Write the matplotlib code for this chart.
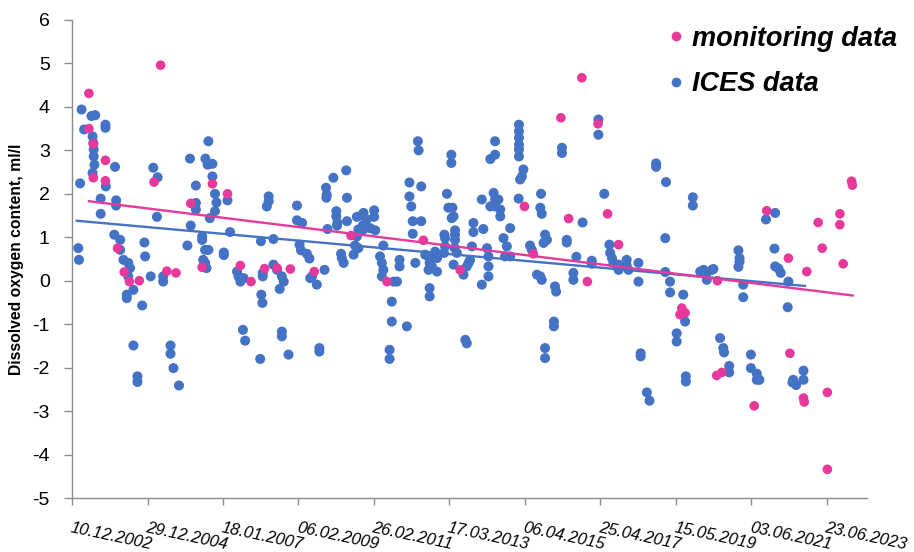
import numpy as np
import pandas as pd
import matplotlib
matplotlib.use("Agg")
import matplotlib.pyplot as plt
from matplotlib.lines import Line2D

plt.rcParams['font.family'] = ['Liberation Sans', 'DejaVu Sans']
plt.rcParams['axes.unicode_minus'] = False

# monitoring data (decimal year, ml/l)
monitoring_years = [
    2003.40, 2003.40, 2003.52, 2003.52, 2003.85, 2003.85, 2005.35, 2005.17,
    2004.18, 2004.36, 2004.50, 2004.77, 2005.52, 2005.77, 2006.17, 2006.76,
    2007.17, 2006.48, 2007.52, 2007.81, 2008.18, 2008.52, 2008.88, 2009.53,
    2010.53, 2011.51, 2012.50, 2013.50, 2015.25, 2015.49, 2016.81, 2016.24,
    2017.25, 2016.45, 2017.51, 2017.81, 2016.96, 2019.53, 2019.62, 2019.48,
    2021.84, 2022.43, 2022.93, 2023.24, 2023.35, 2023.83, 2023.83, 2023.92,
    2024.15, 2024.17, 2020.50, 2022.47, 2020.48, 2020.62, 2021.50, 2022.84,
    2022.86, 2023.49, 2023.49]
monitoring_values = [
    4.31, 3.50, 3.15, 2.37, 2.77, 2.30, 4.96, 2.27,
    0.75, 0.20, -0.02, 0.00, 0.22, 0.18, 1.78, 2.23,
    2.00, 0.31, 0.35, -0.02, 0.28, 0.29, 0.27, 0.21,
    1.04, -0.02, 0.93, 0.25, 1.71, 0.62, 4.67, 3.75,
    3.61, 1.43, 1.54, 0.83, -0.02, -0.63, -0.74, -0.78,
    1.61, 0.52, 0.21, 1.34, 0.75, 1.54, 1.29, 0.39,
    2.29, 2.20, 0.00, -1.67, -2.18, -2.11, -2.88, -2.70,
    -2.79, -2.57, -4.34]

# ICES data (decimal year, ml/l)
ices_years = [
    2003.20, 2003.27, 2003.47, 2003.57, 2003.50, 2003.52,
    2003.53, 2003.53, 2003.55, 2003.50, 2003.85, 2003.85,
    2004.11, 2003.16, 2003.72, 2003.72, 2003.86, 2004.14,
    2004.14, 2003.11, 2003.13, 2004.09, 2004.25, 2004.25,
    2004.34, 2004.47, 2004.52, 2004.47, 2004.61, 2004.43,
    2004.43, 2004.85, 2004.91, 2004.93, 2005.08, 2005.42,
    2005.42, 2005.15, 2005.27, 2005.25, 2004.61, 2004.72,
    2004.72, 2005.62, 2005.62, 2005.70, 2005.85, 2006.15,
    2006.31, 2006.31, 2006.31, 2006.17, 2006.08, 2006.48,
    2006.48, 2006.56, 2006.65, 2006.51, 2006.56, 2006.60,
    2006.65, 2006.57, 2006.63, 2006.76, 2006.76, 2006.83,
    2006.87, 2006.83, 2006.69, 2007.07, 2007.07, 2007.17,
    2007.24, 2007.43, 2007.47, 2007.61, 2007.52, 2008.08,
    2008.42, 2008.29, 2008.29, 2008.24, 2008.13, 2008.13,
    2008.42, 2008.52, 2008.65, 2008.70, 2008.59, 2008.09,
    2008.12, 2007.59, 2007.65, 2008.06, 2008.65, 2008.65,
    2008.83, 2009.06, 2009.06, 2009.20, 2009.13, 2009.17,
    2009.33, 2009.40, 2009.47, 2009.42, 2009.60, 2009.81,
    2009.67, 2009.67, 2009.89, 2009.85, 2009.87, 2009.86,
    2010.05, 2010.40, 2010.42, 2010.13, 2010.13, 2010.16,
    2010.15, 2010.42, 2010.26, 2010.28, 2010.33, 2010.69,
    2010.81, 2010.87, 2010.96, 2011.16, 2011.16, 2010.85,
    2010.87, 2010.73, 2010.69, 2011.05, 2011.19, 2010.64,
    2010.73, 2010.60, 2011.41, 2011.32, 2011.37, 2011.41,
    2011.37, 2011.64, 2011.64, 2011.58, 2011.58, 2011.69,
    2011.78, 2012.05, 2011.85, 2011.85, 2012.28, 2012.12,
    2012.12, 2012.17, 2012.21, 2012.21, 2012.44, 2012.44,
    2012.35, 2012.37, 2012.55, 2012.64, 2012.67, 2012.73,
    2012.87, 2012.82, 2012.64, 2012.87, 2012.67, 2012.67,
    2013.07, 2013.09, 2013.09, 2013.06, 2013.14, 2013.18,
    2013.29, 2013.27, 2013.32, 2013.26, 2013.26, 2013.36,
    2013.36, 2013.36, 2013.35, 2013.41, 2013.32, 2013.59,
    2013.68, 2013.77, 2013.73, 2013.64, 2013.68, 2013.86,
    2013.86, 2013.82, 2014.09, 2014.13, 2014.23, 2014.27,
    2014.27, 2014.27, 2014.09, 2014.41, 2014.32, 2014.45,
    2014.54, 2014.59, 2014.59, 2014.45, 2014.45, 2014.32,
    2014.45, 2014.86, 2014.68, 2014.77, 2014.72, 2014.86,
    2015.10, 2015.10, 2015.10, 2015.10, 2015.10, 2015.10,
    2015.22, 2015.18, 2015.13, 2015.09, 2015.40, 2015.45,
    2015.59, 2015.68, 2015.72, 2015.70, 2015.68, 2015.72,
    2015.81, 2015.86, 2015.77, 2016.05, 2016.05, 2015.81,
    2015.81, 2017.26, 2017.26, 2016.27, 2016.27, 2017.42,
    2016.83, 2016.40, 2016.40, 2016.66, 2016.58, 2016.58,
    2017.08, 2017.08, 2016.08, 2016.11, 2017.56, 2017.58,
    2017.63, 2017.67, 2017.81, 2017.81, 2018.03, 2018.03,
    2018.08, 2018.35, 2018.35, 2018.83, 2018.83, 2019.10,
    2019.08, 2019.08, 2019.21, 2019.21, 2019.83, 2019.83,
    2019.57, 2019.62, 2019.39, 2019.39, 2018.41, 2018.41,
    2019.64, 2019.64, 2018.58, 2018.65, 2020.03, 2020.12,
    2020.21, 2020.35, 2020.21, 2020.39, 2021.07, 2021.10,
    2021.10, 2021.07, 2021.20, 2021.20, 2020.57, 2020.66,
    2020.68, 2020.82, 2020.82, 2021.41, 2021.41, 2021.57,
    2021.64, 2021.57, 2021.82, 2022.07, 2022.05, 2022.07,
    2022.16, 2022.22, 2022.43, 2022.41, 2022.56, 2022.64,
    2022.84, 2022.84, 2022.54]
ices_values = [
    3.94, 3.48, 3.79, 3.81, 3.32, 3.17,
    3.02, 2.86, 2.67, 2.48, 3.59, 3.52,
    2.62, 2.24, 1.89, 1.54, 2.17, 1.85,
    1.73, 0.75, 0.48, 1.06, 0.94, 0.71,
    0.48, 0.41, 0.29, 0.10, -0.21, -0.32,
    -0.40, -0.57, 0.88, 0.56, 0.10, 0.10,
    -0.02, 2.60, 2.38, 1.47, -1.49, -2.20,
    -2.33, -1.49, -1.68, -2.01, -2.41, 2.81,
    2.19, 1.79, 1.64, 1.27, 0.81, 1.02,
    0.94, 0.71, 0.71, 0.48, 0.41, 0.29,
    3.21, 2.81, 2.67, 2.69, 2.40, 2.00,
    1.80, 1.60, 1.44, 0.65, 0.59, 1.85,
    1.12, 0.21, 0.10, 0.06, -0.02, 0.91,
    0.96, 1.94, 1.83, 1.71, 0.18, 0.10,
    0.37, 0.25, 0.10, -0.02, -0.19, -0.32,
    -0.51, -1.13, -1.38, -1.80, -1.17, -1.28,
    -1.70, 1.73, 1.39, 1.33, 0.83, 0.70,
    0.62, 0.51, 0.10, 0.06, -0.09, 0.25,
    -1.55, -1.63, 1.19, 2.14, 1.98, 1.91,
    2.37, 2.54, 1.91, 1.60, 1.48, 1.33,
    1.27, 1.37, 0.62, 0.52, 0.41, 1.47,
    1.50, 1.56, 1.41, 1.62, 1.47, 1.27,
    1.18, 1.18, 1.02, 1.21, 1.16, 0.81,
    0.75, 0.60, 0.81, 0.56, 0.41, 0.25,
    0.10, -0.48, -0.94, -1.59, -1.80, -0.02,
    -0.02, -1.05, 0.48, 0.33, 0.41, 2.26,
    1.94, 1.71, 1.37, 1.08, 2.17, 1.37,
    3.21, 3.00, 0.60, 0.56, 0.41, 0.33,
    0.52, 0.67, 0.25, 0.21, -0.17, -0.36,
    1.06, 0.98, 0.79, 0.64, 2.00, 1.68,
    1.68, 1.44, 1.48, 2.90, 2.71, 1.16,
    1.06, 0.94, 0.75, 0.64, 0.37, 0.14,
    0.33, 0.48, 0.41, -1.36, -1.44, 1.33,
    1.12, 0.79, 1.87, 1.19, 0.75, 0.56,
    0.33, 0.10, -0.09, 2.02, 1.71, 1.71,
    1.87, 1.64, 1.48, 1.87, 3.21, 2.80,
    2.90, 1.21, 0.98, 0.79, 0.56, 0.56,
    3.59, 3.44, 3.29, 3.13, 3.02, 2.86,
    2.56, 2.40, 2.33, 1.89, 0.81, 0.71,
    0.14, 0.10, 0.02, 2.00, 1.68, 1.54,
    1.06, 0.94, 0.87, -0.94, -1.05, -1.55,
    -1.78, 3.71, 3.36, 3.06, 2.94, 2.00,
    1.34, 0.94, 0.88, 0.55, 0.18, 0.02,
    0.46, 0.39, -0.13, -0.25, 0.83, 0.64,
    0.52, 0.41, 0.37, 0.25, 0.48, 0.35,
    0.25, 0.41, -0.02, 2.70, 2.62, 2.27,
    0.98, 0.20, -0.02, -0.27, 1.92, 1.73,
    -0.32, -0.94, -1.21, -1.40, -1.67, -1.74,
    -2.20, -2.32, -2.57, -2.76, 0.21, 0.25,
    0.18, 0.25, 0.02, 0.27, 0.70, 0.52,
    0.44, 0.32, -0.09, -0.38, -1.32, -1.55,
    -1.65, -1.96, -2.11, -1.70, -2.01, -2.14,
    -2.28, -2.28, 1.41, 1.56, 0.74, 0.33,
    0.28, 0.18, -0.02, -0.61, -2.28, -2.40,
    -2.28, -2.07, -2.34]

# linear trends (start / end)
monitoring_trend_years = [2003.40, 2024.18]
monitoring_trend_values = [1.83, -0.34]
ices_trend_years = [2003.07, 2022.88]
ices_trend_values = [1.38, -0.12]

tick_dates = pd.date_range('2002-12-10', periods=11, freq='750D')
x_end = pd.Timestamp('2024-07-24')

pink = '#E6399B'
blue = '#4472C4'
axis_grey = '#8C8C8C'


def to_date(years):
    years = np.asarray(years, dtype=float)
    return pd.Timestamp('2000-01-01') + pd.to_timedelta((years - 2000) * 365.25, unit='D')


fig = plt.figure(figsize=(9.14, 5.52), dpi=100)
ax = fig.add_axes([0.0788, 0.0978, 0.8695, 0.866])

ax.scatter(to_date(ices_years), ices_values, s=52, color=blue, edgecolors='none', zorder=2)
ax.scatter(to_date(monitoring_years), monitoring_values, s=48, color=pink, edgecolors='none', zorder=3)
ax.plot(to_date(ices_trend_years), ices_trend_values, color=blue, lw=1.7, zorder=4)
ax.plot(to_date(monitoring_trend_years), monitoring_trend_values, color=pink, lw=1.7, zorder=5)

ax.set_xlim(tick_dates[0], x_end)
ax.set_ylim(-5, 6)
ax.set_yticks(np.arange(-5, 7, 1))
ax.tick_params(axis='y', labelsize=14, length=6, width=1, color=axis_grey, pad=10)
ax.set_xticks(tick_dates)
ax.set_xticklabels([d.strftime('%d.%m.%Y') for d in tick_dates], rotation=-12,
                   ha='left', va='top', rotation_mode='anchor', fontstyle='italic', fontsize=12)
ax.tick_params(axis='x', length=5, width=1, color=axis_grey, pad=11)

for side in ['top', 'right']:
    ax.spines[side].set_visible(False)
for side in ['left', 'bottom']:
    ax.spines[side].set_color(axis_grey)
    ax.spines[side].set_linewidth(1)

ax.set_ylabel('Dissolved oxygen content, ml/l', fontsize=11.3, fontweight='bold', labelpad=6)

handles = [
    Line2D([], [], ls='none', marker='o', ms=7, color=pink, mec='none'),
    Line2D([], [], ls='none', marker='o', ms=7, color=blue, mec='none'),
]
fig.legend(handles, ['monitoring data', 'ICES data'], loc='upper left',
           bbox_to_anchor=(0.7158, 0.978), frameon=False, borderpad=0,
           handlelength=0.6, handletextpad=0.3, labelspacing=0.72,
           prop={'size': 19.5, 'weight': 'bold', 'style': 'italic'})

fig.savefig('out.png', dpi=100)
